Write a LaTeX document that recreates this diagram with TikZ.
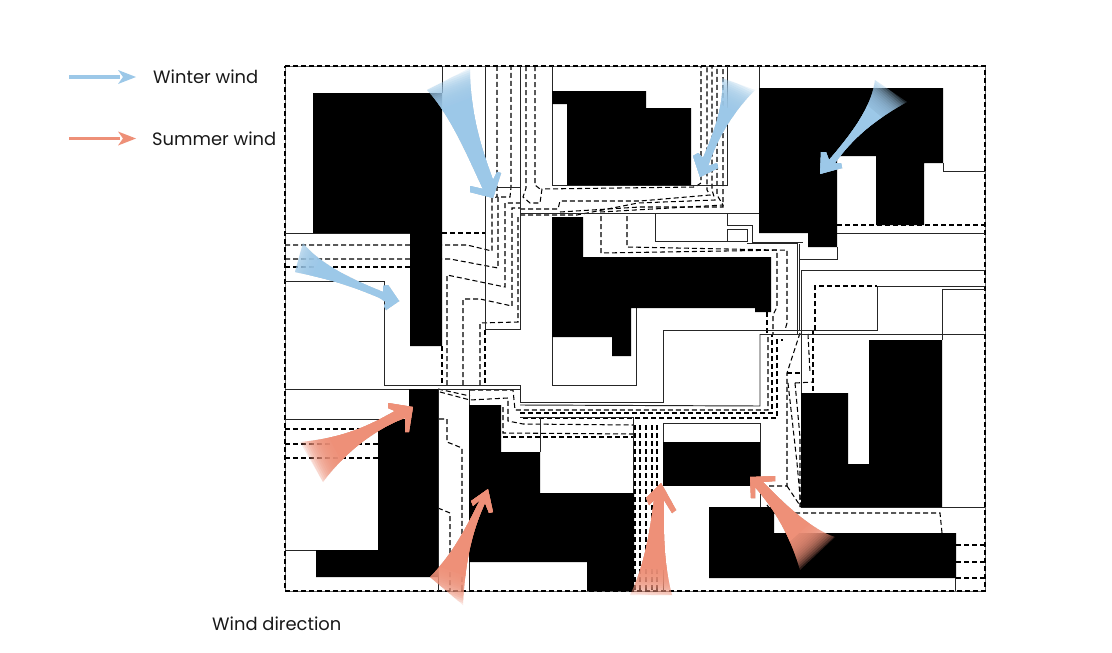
\documentclass[tikz,border=0pt]{standalone}
\usepackage{fontspec}
\setmainfont{Poppins}
\definecolor{winter}{HTML}{9CC8E8}
\definecolor{summer}{HTML}{EE9078}
\tikzset{
  solidline/.style={line width=0.95pt,draw=black!85},
  dashline/.style={line width=1.05pt,draw=black,dash pattern=on 5pt off 3pt},
  building/.style={fill=black,draw=none},
  lab/.style={anchor=base west,inner sep=0pt,font=\fontsize{17.9}{20}\selectfont,text=black!90}
}
% #1 colour, #2 tail point, #3 direction in degrees, #4 outline
\newcommand{\windarrow}[4]{%
  \begin{scope}
    \clip #4;
    \begin{scope}[shift={#2},rotate=#3,x=1pt,y=1pt]
      \foreach \i in {0,...,13}{
        \fill[#1,opacity=0.2] ({\i*2},-150) rectangle (260,150);
      }
      \fill[#1] (28,-150) rectangle (260,150);
    \end{scope}
  \end{scope}}
\begin{document}
\begin{tikzpicture}[x=1pt,y=-1pt]
\useasboundingbox (0,0) rectangle (1112,653);
\fill[white] (0,0) rectangle (1112,653);

% ---- dashed paths
\draw[line width=0.6pt,black!60] (285,66)--(985,66)--(985,591)--(285,591)--cycle;
\draw[dashline] (285,66)--(985,66)--(985,591)--(285,591)--cycle;
% top corridors
\draw[dashline] (285,245)--(467,245)--(492,251)--(492,198)--(497,197)--(497,66);
\draw[dashline] (285,259)--(450,259)--(498,268)--(498,197)--(510,197)--(511,187)--(511,66);
\draw[dashline] (285,267)--(410,267);
\draw[dashline] (410,233)--(485,233);
\draw[dashline] (447,385)--(447,275)--(505,287)--(505,203)--(520,203);
\draw[dashline] (463,385)--(463,299)--(480,299)--(512,306)--(512,208)--(520,208);
\draw[dashline] (480,385)--(480,323)--(518,322)--(518,215);
\draw[dashline] (442,346)--(442,385);
\draw[dashline] (485,330)--(485,385);
\draw[dashline] (526,66)--(526,188)--(523,197)--(530,203)--(540,203)--(542,189)--(695,187)--(701,183)--(701,66);
\draw[dashline] (535,66)--(535,185)--(540,189);
\draw[dashline] (520,209)--(558,209)--(560,201)--(640,201)--(710,195)--(707,190)--(707,66);
\draw[dashline] (520,215)--(577,215)--(638,203)--(715,200)--(712,190)--(712,66);
\draw[dashline] (600,212)--(723,205)--(717,195)--(717,66);
\draw[dashline] (560,212)--(640,207)--(723,207)--(723,66);
\draw[dashline] (601,216)--(601,253)--(787,250)--(787,323)--(785,330);
\draw[dashline] (627,216)--(627,247)--(777,250)--(777,307)--(773,315)--(773,334);
\draw[dashline] (767,312)--(767,334);
% lower corridor
\draw[dashline] (470,390)--(513,390)--(515,410)--(520,410)--(768,410)--(768,334);
\draw[dashline] (440,392)--(470,400)--(508,398)--(508,421)--(523,424)--(633,425);
\draw[dashline] (438,389)--(470,396);
\draw[dashline] (503,407)--(503,433)--(633,434);
\draw[dashline] (503,437)--(633,437);
\draw[dashline] (520,413)--(772,413)--(772,334);
\draw[dashline] (523,418)--(777,418)--(777,340)--(783,340);
\draw[dashline] (640,425)--(640,591);
\draw[dashline] (646,425)--(646,591);
\draw[dashline] (652,425)--(652,591);
\draw[dashline] (657,425)--(657,591);
\draw[dashline] (635,425)--(635,591);
% white channel at the bottom left
\draw[dashline] (439,419)--(447,419)--(447,442)--(462,448)--(462,591);
\draw[dashline] (438,508)--(450,513)--(450,591);
\draw[dashline] (285,429)--(378,429);
\draw[dashline] (285,444)--(378,444);
\draw[dashline] (285,458)--(378,458);
% right area
\draw[dashline] (800,333)--(787,373)--(787,486)--(767,486);
\draw[dashline] (787,373)--(803,373);
\draw[dashline] (808,334)--(810,373);
\draw[dashline] (813,330)--(813,393);
\draw[dashline] (795,383)--(813,382);
\draw[dashline] (795,383)--(800,437)--(800,507);
\draw[dashline] (788,383)--(797,463)--(801,507);
\draw[dashline] (787,486)--(801,507);
\draw[dashline] (767,505)--(773,513)--(940,513)--(942,533);
\draw[dashline] (815,330)--(815,286)--(877,286);
\draw[dashline] (837,225)--(985,225);
\draw[dashline] (956,545)--(985,545);
\draw[dashline] (956,562)--(985,562);
\draw[dashline] (956,578)--(985,578);

% ---- solid lines
\draw[solidline] (285,233)--(410,233);
\draw[solidline] (285,281)--(384,281)--(384,385.5)--(520,385.5)--(520,402)--(663,402)--(663,330)--(877,330)--(877,286)--(985,286);
\draw[solidline] (285,389)--(520,389);
\draw[solidline] (442,66)--(442,93);
\draw[solidline] (485,66)--(485,329)--(520,329);
\draw[solidline] (497,187.5)--(520,187.5);
\draw[solidline] (520,66)--(520,330);
\draw[solidline] (552,66)--(552,185)--(727,185)--(727,66);
\draw[solidline] (520,213)--(727,213)--(727,225)--(752,225)--(752,242)--(803,242);
\draw[solidline] (727,213)--(759,213);
\draw[solidline] (759,66)--(759,90);
\draw[solidline] (655,213)--(655,241)--(747,241)--(747,229)--(727,229)--(727,241);
\draw[solidline] (747,243)--(797,243)--(797,334);
\draw[solidline] (799,244)--(799,330);
\draw[solidline] (837,233)--(985,233);
\draw[solidline] (837,247)--(837,259)--(800,259);
\draw[solidline] (801,270)--(985,270);
\draw[solidline] (801,270)--(801,507);
\draw[solidline] (943,163)--(943,171)--(985,171);
\draw[solidline] (942,289)--(985,289);
\draw[solidline] (942,289)--(942,340);
\draw[solidline] (760,334)--(985,334);
\draw[solidline] (801,507)--(985,507);
\draw[solidline] (520,405)--(760,406)--(760,334);
\draw[solidline] (552,337)--(552,385)--(636,385)--(636,308);
\draw[solidline] (438,389)--(438,591);
\draw[solidline] (469,389)--(469,591);
\draw[solidline] (520,417)--(633,417)--(633,591);
\draw[solidline] (540,417)--(540,452);
\draw[solidline] (663,423)--(760,423)--(760,507);
\draw[solidline] (663,423)--(663,442);
\draw[solidline] (663,530)--(663,591);
\draw[solidline] (285,419)--(378,419);
\draw[solidline] (285,550)--(378,550);
\draw[solidline] (955,578)--(955,591);

% ---- buildings
\fill[building] (313,93)--(442,93)--(442,346)--(410,346)--(410,233)--(313,233)--cycle;
\fill[building] (552,91)--(646,91)--(646,108)--(691,108)--(691,185)--(567,185)--(567,104)--(552,104)--cycle;
\fill[building] (759,88)--(943,88)--(943,163)--(924,163)--(924,225)--(876,225)--(876,156)--(837,156)--(837,247)--(808,247)--(808,233)--(759,233)--cycle;
\fill[building] (552,217)--(583,217)--(583,257)--(771,257)--(771,312)--(755,312)--(755,308)--(631,308)--(631,356)--(612,356)--(612,337)--(552,337)--cycle;
\fill[building] (409,389)--(438,389)--(438,577)--(316,577)--(316,550)--(378,550)--(378,419)--(409,419)--cycle;
\fill[building] (469,405)--(501,405)--(501,452)--(540,452)--(540,493)--(634,493)--(634,591)--(587,591)--(587,562)--(469,562)--cycle;
\fill[building] (663,442) rectangle (760,486);
\fill[building] (709,507)--(774,507)--(774,533)--(956,533)--(956,578)--(709,578)--cycle;
\fill[building] (801,393)--(848,393)--(848,464)--(869,464)--(869,340)--(942,340)--(942,507)--(801,507)--cycle;

% ---- winter wind arrows
\windarrow{winter}{(470,68)}{-69}{(470,68) .. controls (470,115) and (482,150) .. (493,180) -- (497,172) -- (501,173) -- (493,198) -- (470,192) -- (470,186) -- (483,189) .. controls (465,150) and (450,115) .. (427,90) -- cycle}
\windarrow{winter}{(295,245)}{-24}{(303,243) .. controls (318,262) and (345,277) .. (383,292) -- (383,286) -- (388,285) -- (399,301) -- (386,310) -- (384,306) -- (386,302) -- (380,298) .. controls (350,285) and (325,278) .. (295,272) -- cycle}
\windarrow{winter}{(755,90)}{-116}{(722,78) .. controls (724,105) and (715,130) .. (703,158) -- (698,153) -- (693,156) -- (700,177) -- (718,168) -- (717,163) -- (708,166) .. controls (717,140) and (730,115) .. (755,90) -- cycle}
\windarrow{winter}{(907,102)}{-130}{(875,80) .. controls (872,105) and (855,130) .. (829,160) -- (826,152) -- (821,152) -- (820,174) -- (842,168) -- (841,163) -- (835,163) .. controls (855,135) and (878,118) .. (907,102) -- cycle}

% ---- summer wind arrows
\windarrow{summer}{(300,442)}{27}{(300,442) .. controls (345,438) and (370,425) .. (395,411) -- (388,408) -- (388,403) -- (413,407) -- (409,432) -- (405,432) -- (405,418) .. controls (385,425) and (350,445) .. (323,482) -- cycle}
\windarrow{summer}{(463,605)}{70}{(430,577) .. controls (452,555) and (465,530) .. (480,500) -- (473,506) -- (471,501) -- (488,489) -- (493,512) -- (489,513) -- (485,503) .. controls (475,525) and (465,555) .. (463,605) -- cycle}
\windarrow{summer}{(651,597)}{85}{(630,595) .. controls (645,565) and (650,530) .. (654,500) -- (649,505) -- (646,498) -- (661,483) -- (676,510) -- (672,513) -- (664,500) .. controls (663,540) and (665,570) .. (672,595) -- cycle}
\windarrow{summer}{(800,570)}{132}{(835,537) .. controls (812,530) and (785,505) .. (763,482) -- (775,481) -- (775,476) -- (750,477) -- (751,498) -- (755,498) -- (755,487) .. controls (775,510) and (790,535) .. (800,570) -- cycle}

% ---- legend
\draw[line width=3.4pt,winter] (69,77)--(120,77);
\fill[winter] (136,77)--(118,70)--(123,77)--(118,84)--cycle;
\draw[line width=3.4pt,summer] (69,138.5)--(120,138.5);
\fill[summer] (136,138.5)--(118,131.5)--(123,138.5)--(118,145.5)--cycle;
\node[lab] (winterlabel) at (153,83) {Winter wind};
\node[lab] (summerlabel) at (152,145) {Summer wind};
\node[lab] (caption) at (212,630) {Wind direction};
\end{tikzpicture}
\end{document}
